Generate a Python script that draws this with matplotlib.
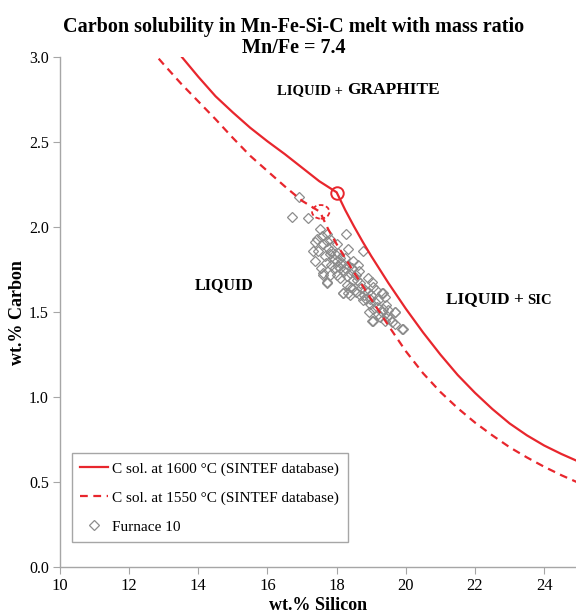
import numpy as np
import matplotlib
matplotlib.use('Agg')
import matplotlib.pyplot as plt
from matplotlib.patches import Ellipse

plt.rcParams['font.family'] = ['Liberation Serif', 'DejaVu Serif']

# C solubility at 1600 C (solid line)
si_1600 = [13.3, 13.53, 14.0, 14.5, 15.0, 15.5, 16.0, 16.5, 17.0, 17.5, 18.0,
           18.25, 18.5, 18.75, 19.0, 19.5, 20.0, 20.5, 21.0, 21.5, 22.0, 22.5,
           23.0, 23.5, 24.0, 24.5, 25.0]
c_1600 = [3.06, 3.0, 2.885, 2.77, 2.675, 2.585, 2.505, 2.43, 2.35, 2.27, 2.205,
          2.10, 2.005, 1.915, 1.83, 1.67, 1.52, 1.38, 1.25, 1.13, 1.025, 0.93,
          0.845, 0.775, 0.715, 0.665, 0.62]

# C solubility at 1550 C (dashed line)
si_1550 = [12.6, 12.82, 13.0, 13.5, 14.0, 14.5, 15.0, 15.5, 16.0, 16.5, 17.0, 17.52,
           17.75, 18.0, 18.5, 19.0, 19.5, 20.0, 20.5, 21.0, 21.5, 22.0, 22.5,
           23.0, 23.5, 24.0, 24.5, 25.0]
c_1550 = [3.05, 3.0, 2.958, 2.845, 2.74, 2.635, 2.525, 2.42, 2.33, 2.24, 2.155, 2.09,
          1.99, 1.90, 1.735, 1.575, 1.42, 1.27, 1.14, 1.03, 0.935, 0.85, 0.775,
          0.705, 0.645, 0.59, 0.54, 0.495]

# Furnace 10 measurements
f10_si = [16.90, 16.71, 17.18, 17.52, 17.71, 17.43, 17.57, 18.27, 17.71, 18.00, 17.47, 18.34, 18.75,
          17.38, 17.81, 17.91, 18.10, 18.48, 18.05, 18.24, 18.63, 17.62, 17.81, 18.29, 18.91, 17.71,
          18.10, 18.48, 18.67, 19.01, 18.39, 18.82, 19.06, 18.19, 18.39, 18.67, 19.35, 18.77, 18.96,
          19.39, 18.96, 19.16, 19.44, 19.30, 19.49, 19.68, 19.06, 19.25, 19.54, 19.68, 19.92,
          17.38, 17.33, 17.62, 17.71, 18.19, 18.34, 19.30, 19.01, 19.88, 19.68,
          17.75, 17.85, 17.95, 17.65, 17.70, 17.85, 17.95, 18.05, 18.15, 18.20, 18.35, 18.40, 18.45,
          18.55, 18.60, 18.30, 18.45, 18.55, 18.70, 18.80, 18.85, 19.00, 19.10, 19.20, 19.05, 19.35,
          19.20, 18.95, 19.45, 17.60, 17.80, 18.00, 18.10, 18.25, 17.55, 18.00, 18.65, 18.90, 19.15,
          19.40, 19.60]
f10_c = [2.176, 2.062, 2.052, 1.99, 1.96, 1.93, 1.95, 1.96, 1.92, 1.90, 1.86, 1.87, 1.86,
         1.80, 1.84, 1.81, 1.82, 1.80, 1.77, 1.76, 1.78, 1.73, 1.72, 1.71, 1.70, 1.67,
         1.70, 1.69, 1.67, 1.675, 1.65, 1.63, 1.65, 1.61, 1.60, 1.60, 1.61, 1.57, 1.58,
         1.59, 1.55, 1.53, 1.54, 1.50, 1.51, 1.50, 1.45, 1.47, 1.46, 1.43, 1.40,
         1.91, 1.86, 1.72, 1.675, 1.61, 1.61, 1.61, 1.45, 1.40, 1.50,
         1.88, 1.86, 1.84, 1.83, 1.79, 1.78, 1.76, 1.85, 1.79, 1.74, 1.77, 1.73, 1.76,
         1.72, 1.69, 1.66, 1.64, 1.62, 1.64, 1.60, 1.58, 1.60, 1.56, 1.57, 1.52, 1.52,
         1.49, 1.50, 1.48, 1.90, 1.93, 1.80, 1.76, 1.82, 1.76, 1.72, 1.74, 1.62, 1.63,
         1.45, 1.44]

red = '#e8262d'
gray = '#8c8c8c'

fig = plt.figure(figsize=(5.76, 6.15), dpi=100)
ax = fig.add_axes([0.104, 0.078, 0.896, 0.829])

ax.plot(si_1600, c_1600, color=red, lw=1.6, label='C sol. at 1600 °C (SINTEF database)', zorder=3)
ax.plot(si_1550, c_1550, color=red, lw=1.6, ls=(0, (3.5, 2.5)),
        label='C sol. at 1550 °C (SINTEF database)', zorder=3)
ax.plot(f10_si, f10_c, ls='none', marker='D', ms=5.4, mfc='none', mec=gray, mew=0.9,
        label='Furnace 10', zorder=2)

# graphite / SiC triple points
ax.plot([18.0], [2.2], marker='o', ms=9, mfc='none', mec=red, mew=1.4, zorder=4)
ax.add_patch(Ellipse((17.54, 2.09), 0.5, 0.08, fill=False, ec=red, lw=1.3,
                     ls=(0, (2.5, 1.5)), zorder=4))

ax.set_xlim(10, 24.92)
ax.set_ylim(0, 3.0)
ax.set_xticks([10, 12, 14, 16, 18, 20, 22, 24])
ax.set_yticks(np.arange(0, 3.01, 0.5))
ax.yaxis.set_major_formatter(matplotlib.ticker.FormatStrFormatter('%.1f'))

for s in ['top', 'right']:
    ax.spines[s].set_visible(False)
for s in ['left', 'bottom']:
    ax.spines[s].set_color('#a6a6a6')
    ax.spines[s].set_linewidth(1.0)
ax.tick_params(axis='x', direction='out', length=5, color='#a6a6a6', labelsize=12, pad=3)
ax.tick_params(axis='y', direction='out', length=5, color='#a6a6a6', labelsize=11.5, pad=3)

ax.set_xlabel('wt.% Silicon', fontsize=13, fontweight='bold', labelpad=2)
ax.set_ylabel('wt.% Carbon', fontsize=13, fontweight='bold', labelpad=2)

fig.suptitle('Carbon solubility in Mn-Fe-Si-C melt with mass ratio\nMn/Fe = 7.4',
             x=0.51, y=0.972, fontsize=14.5, fontweight='bold', linespacing=1.05)

# region labels (small caps look: smaller size for part of the text)
t1 = ax.text(16.28, 2.78, 'LIQUID +', fontsize=10.5, fontweight='bold', va='baseline', ha='left')
ax.annotate('GRAPHITE', xy=(1, 0), xycoords=t1, xytext=(3, 0), textcoords='offset points',
            fontsize=12.5, fontweight='bold', va='bottom', ha='left')
ax.text(14.76, 1.66, 'LIQUID', fontsize=11.5, fontweight='bold', va='center', ha='center')
t2 = ax.text(21.15, 1.555, 'LIQUID +', fontsize=12.5, fontweight='bold', va='baseline', ha='left')
ax.annotate('SIC', xy=(1, 0), xycoords=t2, xytext=(3, 0), textcoords='offset points',
            fontsize=10.5, fontweight='bold', va='bottom', ha='left')

leg = ax.legend(loc='lower left', bbox_to_anchor=(0.023, 0.049), borderaxespad=0,
                fontsize=11, handlelength=1.8, handletextpad=0.3, labelspacing=1.0,
                borderpad=0.55, fancybox=False, framealpha=1)
leg.get_frame().set_edgecolor('#a6a6a6')
leg.get_frame().set_linewidth(1.0)

fig.savefig('out.png', dpi=100)
